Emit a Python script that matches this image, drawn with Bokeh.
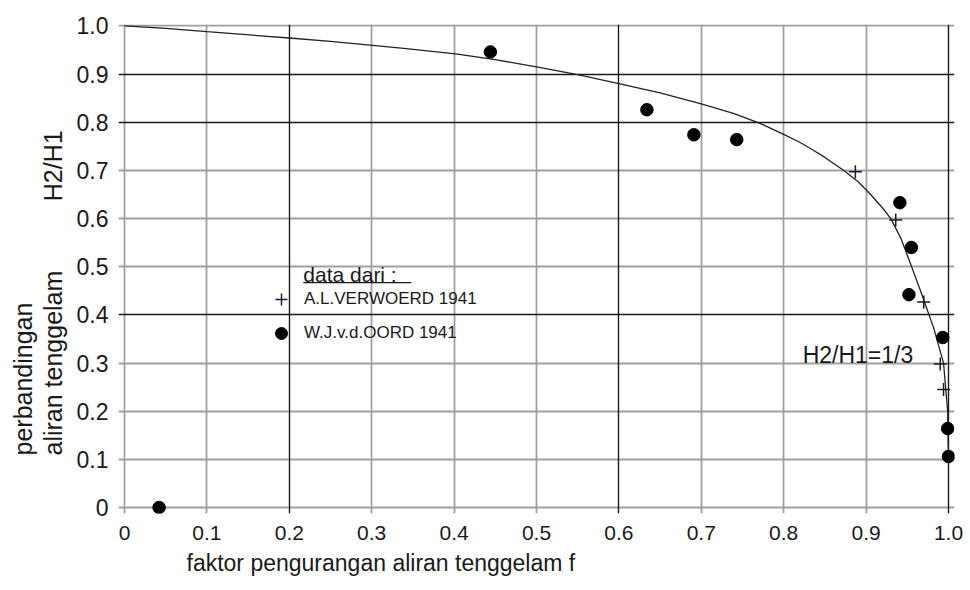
from bokeh.plotting import figure
from bokeh.models import Range1d, FixedTicker, Grid, Legend, LegendItem, Label, Title
from bokeh.embed import file_html
from bokeh.resources import INLINE

# ---------------- data ----------------
TICKS = [0.0, 0.1, 0.2, 0.3, 0.4, 0.5, 0.6, 0.7, 0.8, 0.9, 1.0]
X_TICK_LABELS = ["0", "0.1", "0.2", "0.3", "0.4", "0.5", "0.6", "0.7", "0.8", "0.9", "1.0"]
Y_TICK_LABELS = ["0", "0.1", "0.2", "0.3", "0.4", "0.5", "0.6", "0.7", "0.8", "0.9", "1.0"]
DARK_X = [0.2, 0.6, 1.0]
DARK_Y = [0.4, 0.8, 0.9]

# theoretical curve
curve_f = [0.0, 0.05, 0.1, 0.2, 0.25, 0.336, 0.402, 0.45, 0.5, 0.55, 0.6, 0.65, 0.7, 0.74,
           0.772, 0.8, 0.82, 0.835, 0.85, 0.873, 0.89, 0.905, 0.92, 0.93, 0.942, 0.952,
           0.966, 0.982, 0.994, 0.999, 1.0]
curve_h = [1.0, 0.995, 0.988, 0.975, 0.968, 0.954, 0.942, 0.930, 0.915, 0.899, 0.880, 0.861,
           0.838, 0.818, 0.797, 0.775, 0.758, 0.743, 0.727, 0.700, 0.677, 0.651, 0.622,
           0.600, 0.560, 0.515, 0.450, 0.373, 0.30, 0.20, 0.10]

# W.J.v.d.OORD 1941 (dots)
oord_f = [0.042, 0.444, 0.634, 0.691, 0.743, 0.941, 0.955, 0.952, 0.993, 0.999, 1.0]
oord_h = [0.0, 0.946, 0.826, 0.774, 0.764, 0.633, 0.54, 0.442, 0.353, 0.164, 0.106]

# A.L.VERWOERD 1941 (crosses)
verw_f = [0.887, 0.936, 0.970, 0.990, 0.994]
verw_h = [0.697, 0.597, 0.427, 0.298, 0.245]

FONT = "Liberation Sans"
TXT = "#1a1a1a"
NB = "\u00a0"

# ---------------- figure ----------------
p = figure(width=970, height=590, output_backend="svg", toolbar_location=None,
           x_range=Range1d(-0.0073, 1.0073), y_range=Range1d(-0.0124, 1.003),
           min_border_left=117, min_border_right=16, min_border_top=24, min_border_bottom=77)
p.outline_line_color = None
p.background_fill_color = "white"
p.border_fill_color = "white"

# grids: light and dark
p.xgrid.ticker = FixedTicker(ticks=[t for t in TICKS if t not in DARK_X])
p.ygrid.ticker = FixedTicker(ticks=[t for t in TICKS if t not in DARK_Y])
for g in (p.xgrid, p.ygrid):
    g.grid_line_color = "#a0a0a0"
    g.grid_line_width = 1.8
p.add_layout(Grid(dimension=0, ticker=FixedTicker(ticks=DARK_X),
                  grid_line_color="#1a1a1a", grid_line_width=1.4))
p.add_layout(Grid(dimension=1, ticker=FixedTicker(ticks=DARK_Y),
                  grid_line_color="#1a1a1a", grid_line_width=1.4))

# axes
p.xaxis.ticker = FixedTicker(ticks=TICKS)
p.yaxis.ticker = FixedTicker(ticks=TICKS)
p.xaxis.major_label_overrides = {t: s for t, s in zip(TICKS, X_TICK_LABELS)}
p.yaxis.major_label_overrides = {t: s for t, s in zip(TICKS, Y_TICK_LABELS)}
for ax in (p.xaxis, p.yaxis):
    ax.axis_line_color = None
    ax.major_tick_line_color = None
    ax.minor_tick_line_color = None
    ax.major_tick_in = 0
    ax.major_tick_out = 0
    ax.major_label_text_font = FONT
    ax.major_label_text_color = TXT
p.xaxis.major_label_text_font_size = "21px"
p.yaxis.major_label_text_font_size = "23px"
p.xaxis.major_label_standoff = 12
p.yaxis.major_label_standoff = 10

# curve and data
p.line(curve_f, curve_h, line_color="#222222", line_width=1.3)
r_verw = p.scatter(verw_f, verw_h, marker="cross", size=13,
                   line_color="#1a1a2e", line_width=1.5)
r_oord = p.scatter(oord_f, oord_h, marker="circle", size=12.5,
                   fill_color="black", line_color="black")

# legend
legend = Legend(items=[LegendItem(label="A.L.VERWOERD 1941", renderers=[r_verw]),
                       LegendItem(label="W.J.v.d.OORD 1941", renderers=[r_oord])],
                location=(148, 165), glyph_width=30, glyph_height=30, label_height=30,
                spacing=4, label_standoff=8, padding=0, margin=0,
                border_line_color=None, background_fill_alpha=0,
                label_text_font=FONT, label_text_font_size="17px", label_text_color=TXT)
p.add_layout(legend)

p.add_layout(Label(x=0.217, y=0.483, text="data dari :", text_font=FONT,
                   text_font_size="21px", text_color=TXT, text_baseline="alphabetic"))
p.segment(x0=[0.217], y0=[0.467], x1=[0.348], y1=[0.467], line_color=TXT, line_width=1.3)

# annotation
p.add_layout(Label(x=0.823, y=0.317, text="H2/H1=1/3", text_font=FONT,
                   text_font_size="23px", text_color=TXT, text_baseline="alphabetic"))

# axis titles
p.add_layout(Title(text="faktor pengurangan aliran tenggelam f", align="left", offset=68,
                   standoff=10, text_font=FONT, text_font_size="23px",
                   text_font_style="normal", text_color=TXT), "below")
p.add_layout(Title(text="perbandingan\naliran tenggelam" + NB * 10 + "H2/H1",
                   align="left", offset=58, standoff=13, text_font=FONT,
                   text_font_size="25px", text_font_style="normal", text_color=TXT,
                   text_line_height=1.08), "left")

open("out.html", "w").write(file_html(p, INLINE))
